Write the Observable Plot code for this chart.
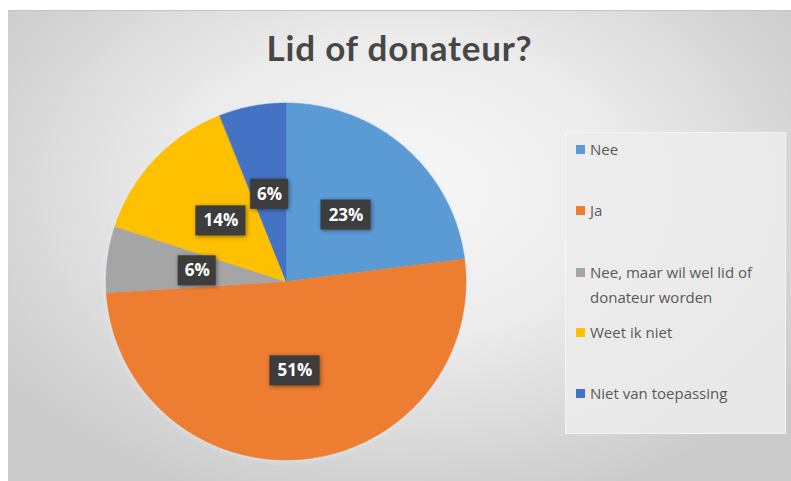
<!DOCTYPE html>
<html>
<head>
<meta charset="utf-8">
<script src="https://cdn.jsdelivr.net/npm/d3@7"></script>
<script src="https://cdn.jsdelivr.net/npm/@observablehq/plot@0.6"></script>
<style>
  html, body { margin: 0; padding: 0; background: #ffffff; }
  #page { position: relative; width: 791px; height: 481px; overflow: hidden; }
  #bg { position: absolute; left: 8px; top: 10px; width: 783px; height: 471px;
        background: radial-gradient(ellipse 62% 70% at 50% 38%, #f8f8f8 0%, #ececec 45%, #cbcbcb 100%);
        border-top: 1px solid #c4c4c4; box-sizing: border-box; }
  #title { position: absolute; left: 8px; width: 783px; top: 26px; text-align: center;
           font-family: Lato, "Open Sans", sans-serif; font-weight: bold; font-size: 35px; letter-spacing: 0.8px; color: #474747; }
  #chart { position: absolute; left: 0; top: 0; }
  #legendbox { position: absolute; left: 565px; top: 132px; width: 221px; height: 302px;
               background: rgba(236,236,236,0.85); border: 1px solid rgba(250,250,250,0.6); box-sizing: border-box; }
  .entry { position: absolute; left: 576px; font-family: "Open Sans", sans-serif; font-size: 15px;
           color: #595959; line-height: 25px; }
  .sw { position: absolute; left: 0; width: 9px; height: 9px; }
  .txt { margin-left: 14px; white-space: nowrap; }
</style>
</head>
<body>
<div id="page">
  <div id="bg"></div>
  <div id="title">Lid of donateur?</div>
  <div id="chart"></div>
  <div id="legendbox"></div>
</div>
<script>
const categories = ["Nee", "Ja", "Nee, maar wil wel lid of donateur worden", "Weet ik niet", "Niet van toepassing"];
const legendLines = [["Nee"], ["Ja"], ["Nee, maar wil wel lid of", "donateur worden"], ["Weet ik niet"], ["Niet van toepassing"]];
const values = [23, 51, 6, 14, 6];
const labels = ["23%", "51%", "6%", "14%", "6%"];
const colors = ["#5B9BD5", "#ED7D31", "#A5A5A5", "#FFC000", "#4472C4"];
const legendTops = [149, 210, 272, 332, 393];

const total = d3.sum(values);
const points = [];
const labelData = [];
let acc = 0;
values.forEach((v, i) => {
  const a0 = acc / total * 2 * Math.PI;
  const a1 = (acc + v) / total * 2 * Math.PI;
  const n = Math.max(2, Math.ceil((a1 - a0) / (Math.PI / 360)));
  for (let k = 0; k <= n; k++) {
    const a = a0 + (a1 - a0) * k / n;
    points.push({cat: categories[i], x: Math.sin(a), y: Math.cos(a)});
  }
  const am = (a0 + a1) / 2;
  const r = 0.5;
  const wpx = labels[i].length >= 3 ? 50 : 38;
  labelData.push({label: labels[i], lx: r * Math.sin(am), ly: r * Math.cos(am), w: wpx / 180, h: 30 / 178.5});
  acc += v;
});

const W = 791, H = 481;
const chart = Plot.plot({
  width: W,
  height: H,
  marginLeft: 106,
  marginRight: W - 466,
  marginTop: 103,
  marginBottom: H - 460,
  style: {background: "transparent", overflow: "visible"},
  x: {domain: [-1, 1], axis: null},
  y: {domain: [-1, 1], axis: null},
  color: {domain: categories, range: colors},
  marks: [
    Plot.area(points, {x1: "x", y1: "y", x2: 0, y2: 0, z: "cat", fill: "cat", stroke: "cat", strokeWidth: 0.5, curve: "linear"}),
    Plot.rect(labelData, {x1: d => d.lx - d.w / 2, x2: d => d.lx + d.w / 2, y1: d => d.ly - d.h / 2, y2: d => d.ly + d.h / 2, fill: "#3d3d3d"}),
    Plot.text(labelData, {x: "lx", y: "ly", text: "label", fill: "white", fontSize: 17, fontWeight: "bold", fontFamily: "Open Sans, sans-serif"})
  ]
});
document.getElementById("chart").appendChild(chart);
d3.select(chart).selectAll("g[aria-label=area]").style("filter", "drop-shadow(0 0 3px rgba(225,235,245,0.9))");
d3.select(chart).selectAll("g[aria-label=rect] rect").style("filter", "drop-shadow(1px 1px 2px rgba(0,0,0,0.45))");

const page = document.getElementById("page");
legendLines.forEach((lines, i) => {
  const e = document.createElement("div");
  e.className = "entry";
  e.style.top = (legendTops[i] - 12.5) + "px";
  const sw = document.createElement("div");
  sw.className = "sw";
  sw.style.background = colors[i];
  sw.style.top = "8px";
  e.appendChild(sw);
  const t = document.createElement("div");
  t.className = "txt";
  t.innerHTML = lines.map(s => s.replace(/&/g, "&amp;").replace(/</g, "&lt;")).join("<br>");
  e.appendChild(t);
  page.appendChild(e);
});
</script>
</body>
</html>
